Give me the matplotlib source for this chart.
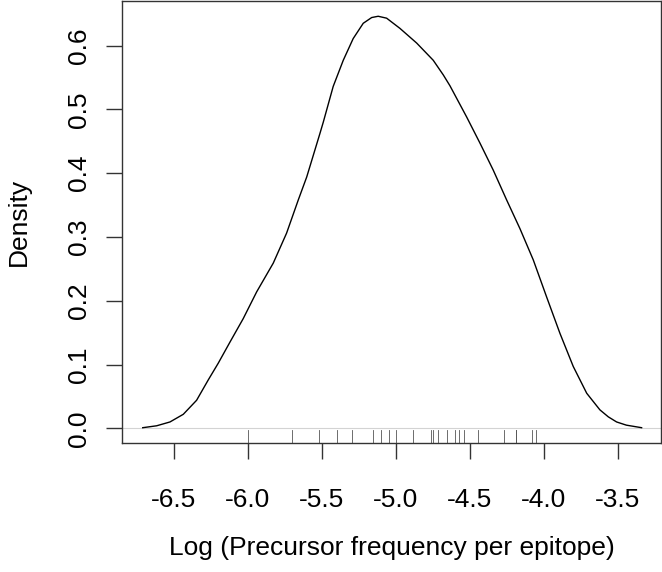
"""Kernel density of log precursor frequency per epitope, with rug."""

import matplotlib

matplotlib.use("Agg")
from matplotlib import pyplot as plt

# density curve (x = log frequency, y = density)
density_x = [
    -6.711, -6.617, -6.527, -6.437, -6.347, -6.268, -6.201, -6.122,
    -6.032, -5.941, -5.829, -5.739, -5.660, -5.603, -5.514, -5.491,
    -5.424, -5.356, -5.289, -5.221, -5.164, -5.120, -5.063, -4.973,
    -4.860, -4.748, -4.680, -4.635, -4.522, -4.432, -4.343, -4.252,
    -4.162, -4.072, -3.982, -3.892, -3.802, -3.711, -3.622, -3.565,
    -3.509, -3.443, -3.340,
]
density_y = [
    0.001, 0.004, 0.010, 0.022, 0.044, 0.076, 0.102, 0.135,
    0.172, 0.214, 0.259, 0.306, 0.358, 0.394, 0.462, 0.480,
    0.536, 0.577, 0.611, 0.635, 0.644, 0.646, 0.643, 0.627,
    0.604, 0.577, 0.554, 0.537, 0.488, 0.447, 0.405, 0.358,
    0.313, 0.264, 0.206, 0.149, 0.097, 0.055, 0.029, 0.018,
    0.010, 0.005, 0.001,
]

# observations shown as the rug
rug_x = [
    -6.002, -5.701, -5.522, -5.397, -5.299, -5.153, -5.098, -5.045,
    -4.998, -4.887, -4.765, -4.748, -4.718, -4.657, -4.601, -4.574,
    -4.538, -4.444, -4.268, -4.191, -4.186, -4.079, -4.052,
]

x_ticks = [-6.5, -6.0, -5.5, -5.0, -4.5, -4.0, -3.5]
y_ticks = [0.0, 0.1, 0.2, 0.3, 0.4, 0.5, 0.6]


def main() -> None:
    plt.rcParams["font.family"] = ["Liberation Sans", "DejaVu Sans"]
    fig = plt.figure(figsize=(6.62, 5.72), dpi=100)
    ax = fig.add_axes([0.1843, 0.2255, 0.8142, 0.7725])

    ax.axhline(0.0, color="#d3d3d3", linewidth=0.8, zorder=1)
    ax.plot(density_x, density_y, color="black", linewidth=1.0, zorder=3,
            solid_joinstyle="round")
    for value in rug_x:
        ax.axvline(value, ymin=0.0, ymax=0.03, color="#555555", linewidth=0.6)

    ax.set_xlim(-6.851, -3.209)
    ax.set_ylim(-0.023, 0.6697)
    ax.set_xticks(x_ticks)
    ax.set_xticklabels([f"{v:.1f}" for v in x_ticks])
    ax.set_yticks(y_ticks)
    ax.set_yticklabels([f"{v:.1f}" for v in y_ticks], rotation=90, va="center")

    for spine in ax.spines.values():
        spine.set_color("#333333")
        spine.set_linewidth(1.0)
    ax.tick_params(axis="both", direction="out", length=11.5, width=1.0,
                   color="#333333", labelsize=19)
    ax.tick_params(axis="x", pad=21)
    ax.tick_params(axis="y", pad=11)

    ax.set_xlabel("Log (Precursor frequency per epitope)", fontsize=19, labelpad=17)
    ax.set_ylabel("Density", fontsize=19, labelpad=26)

    fig.savefig("out.png", dpi=100)
    plt.close(fig)


if __name__ == "__main__":
    main()
